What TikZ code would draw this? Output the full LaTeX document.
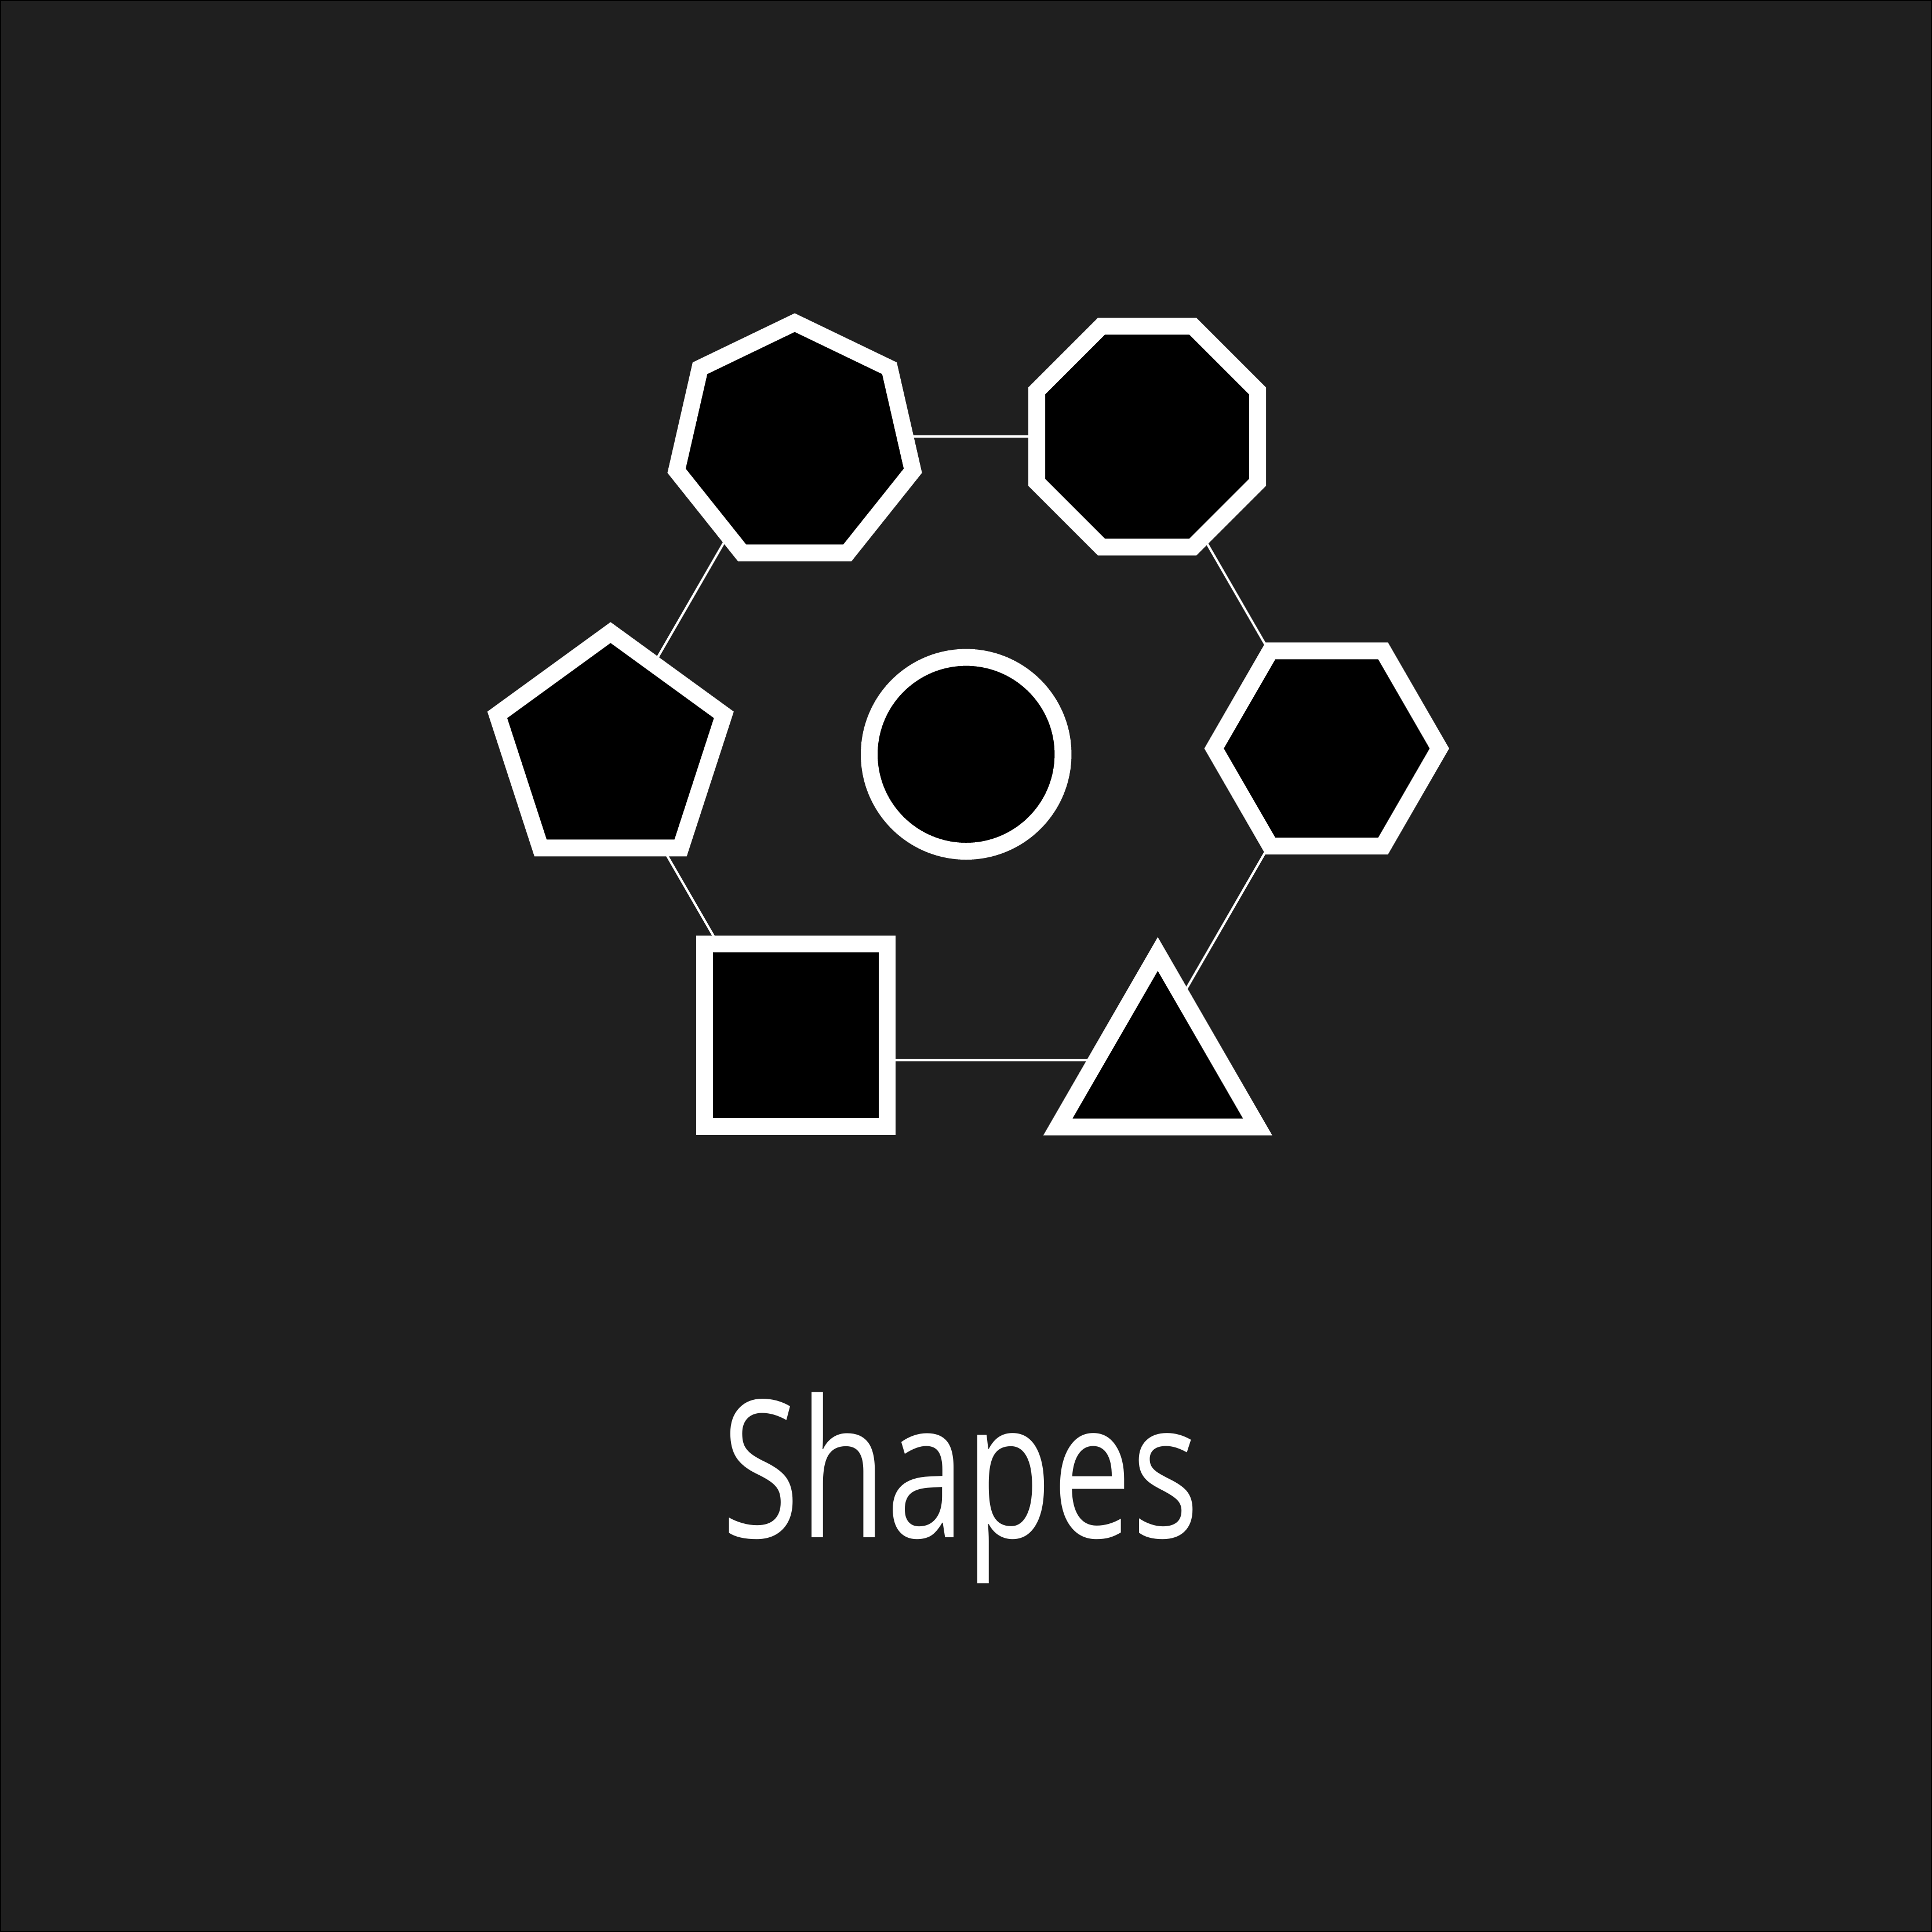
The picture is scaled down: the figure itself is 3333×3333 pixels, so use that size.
\documentclass[tikz,border=0pt]{standalone}
\usepackage{fontspec}
\newfontfamily\titlefont[FakeStretch=0.74]{Open Sans}
\usetikzlibrary{shapes.geometric,calc}
\pgfdeclarelayer{bg}
\pgfdeclarelayer{edges}
\pgfsetlayers{bg,edges,main}
\definecolor{bgc}{HTML}{1F1F1F}
\tikzset{
  shapenode/.style={draw=white, fill=black, line width=29pt, inner sep=0pt, outer sep=0pt, line join=miter},
  polyn/.style={shapenode, regular polygon, regular polygon sides=#1},
  link/.style={draw=white, line width=4pt},
}
\begin{document}
\begin{tikzpicture}[x=1pt,y=-1pt]
\useasboundingbox (0,0) rectangle (3333,3333);
\begin{pgfonlayer}{bg}
  \fill[black] (0,0) rectangle (3333,3333);
  \fill[bgc] (2,2) rectangle (3331,3331);
\end{pgfonlayer}

% shapes
\node[polyn=7, minimum size=418.2pt] (hept) at (1371,765.6) {};
\node[polyn=8, minimum size=412.4pt] (oct)  at (1979,753.3) {};
\node[polyn=6, minimum size=388.8pt] (hex)  at (2288.8,1291.2) {};
\node[polyn=3, minimum size=398pt]   (tri)  at (1997.3,1844.7) {};
\node[shapenode, rectangle, minimum size=315pt] (sq) at (1373,1785.9) {};
\node[polyn=5, minimum size=411pt]   (pent) at (1053.3,1296.7) {};
\node[shapenode, circle, minimum size=334.4pt] (circ) at (1666.7,1301.3) {};

% connector ends
\coordinate (hept-p) at ($(hept)+(-16.5,-12.6)$);
\coordinate (oct-p)  at ($(oct)+(-3.3,-0.3)$);
\coordinate (hex-p)  at ($(hex)+(-2.6,-0.3)$);
\coordinate (tri-p)  at ($(tri)+(-21.6,-15.9)$);
\coordinate (sq-p)   at ($(sq)+(-18.5,42.9)$);
\coordinate (pent-p) at ($(pent)+(-9.3,-5.8)$);

\begin{pgfonlayer}{edges}
  \draw[link] (hept-p) -- (oct-p);
  \draw[link] (oct-p) -- (hex-p);
  \draw[link] (hex-p) -- (tri-p);
  \draw[link] (tri-p) -- (sq-p);
  \draw[link] (sq-p) -- (pent-p);
  \draw[link] (pent-p) -- (hept-p);
\end{pgfonlayer}

\node[text=white, anchor=base, inner sep=0pt] (title) at (1657,2652)
  {\titlefont\fontsize{330}{330}\selectfont Shapes};
\end{tikzpicture}
\end{document}
